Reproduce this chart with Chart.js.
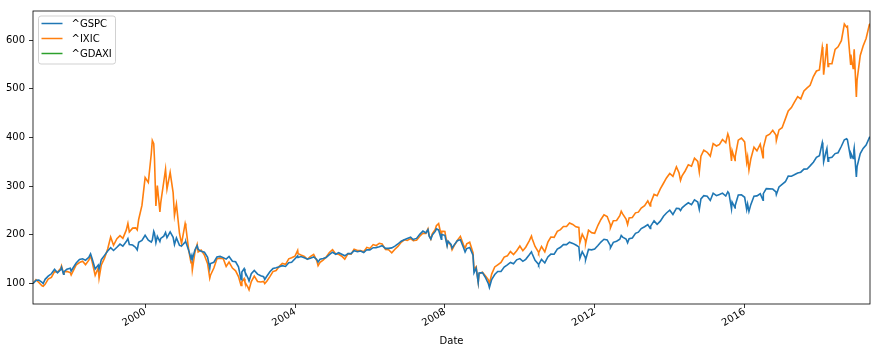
<!DOCTYPE html>
<html><head><meta charset="utf-8">
<script src="https://cdn.jsdelivr.net/npm/chart.js@4.4.1/dist/chart.umd.min.js"></script>
<style>html,body{margin:0;padding:0;background:#fff;}#wrap{width:880px;height:354px;position:relative;}</style>
</head><body><div id="wrap"><canvas id="c" width="880" height="354"></canvas></div>
<script>
const dates = [
'1997-01-02','1997-01-31','1997-02-28','1997-03-31','1997-04-11','1997-04-30','1997-05-30','1997-06-30','1997-07-31','1997-08-29','1997-09-30','1997-10-07','1997-10-27','1997-10-31','1997-11-28','1997-12-31',
'1998-01-09','1998-01-30','1998-02-27','1998-03-31','1998-04-30','1998-05-29','1998-06-30','1998-07-17','1998-07-31','1998-08-31','1998-09-30','1998-10-08','1998-10-30','1998-11-30','1998-12-31',
'1999-01-29','1999-02-26','1999-03-31','1999-04-30','1999-05-28','1999-06-30','1999-07-16','1999-07-30','1999-08-31','1999-09-30','1999-10-15','1999-10-29','1999-11-30','1999-12-31',
'2000-01-31','2000-02-29','2000-03-10','2000-03-24','2000-03-31','2000-04-14','2000-04-28','2000-05-23','2000-05-31','2000-06-30','2000-07-17','2000-07-31','2000-08-31','2000-09-29','2000-10-12','2000-10-31','2000-11-30','2000-12-20','2000-12-29',
'2001-01-24','2001-01-31','2001-02-28','2001-03-22','2001-03-30','2001-04-04','2001-04-30','2001-05-21','2001-05-31','2001-06-29','2001-07-31','2001-08-31','2001-09-21','2001-09-28','2001-10-31','2001-11-30','2001-12-31',
'2002-01-31','2002-02-28','2002-03-28','2002-04-30','2002-05-31','2002-06-28','2002-07-23','2002-07-31','2002-08-22','2002-08-30','2002-09-30','2002-10-09','2002-10-31','2002-11-29','2002-12-31',
'2003-01-31','2003-02-28','2003-03-11','2003-03-31','2003-04-30','2003-05-30','2003-06-30','2003-07-31','2003-08-29','2003-09-30','2003-10-31','2003-11-28','2003-12-31',
'2004-01-26','2004-01-30','2004-02-27','2004-03-31','2004-04-30','2004-05-28','2004-06-30','2004-07-30','2004-08-12','2004-08-31','2004-09-30','2004-10-29','2004-11-30','2004-12-31',
'2005-01-31','2005-02-28','2005-03-31','2005-04-29','2005-05-31','2005-06-30','2005-07-29','2005-08-31','2005-09-30','2005-10-31','2005-11-30','2005-12-30',
'2006-01-31','2006-02-28','2006-03-31','2006-04-28','2006-05-31','2006-06-30','2006-07-31','2006-08-31','2006-09-29','2006-10-31','2006-11-30','2006-12-29',
'2007-01-31','2007-02-27','2007-02-28','2007-03-30','2007-04-30','2007-05-31','2007-06-29','2007-07-19','2007-07-31','2007-08-16','2007-08-31','2007-09-28','2007-10-09','2007-10-31','2007-11-26','2007-11-30','2007-12-31',
'2008-01-22','2008-01-31','2008-02-29','2008-03-10','2008-03-31','2008-04-30','2008-05-30','2008-06-30','2008-07-15','2008-07-31','2008-08-29','2008-09-30','2008-10-10','2008-10-31','2008-11-20','2008-11-28','2008-12-31',
'2009-01-30','2009-02-27','2009-03-09','2009-03-31','2009-04-30','2009-05-29','2009-06-30','2009-07-31','2009-08-31','2009-09-30','2009-10-30','2009-11-30','2009-12-31',
'2010-01-29','2010-02-26','2010-03-31','2010-04-23','2010-04-30','2010-05-28','2010-06-30','2010-07-02','2010-07-30','2010-08-31','2010-09-30','2010-10-29','2010-11-30','2010-12-31',
'2011-01-31','2011-02-28','2011-03-31','2011-04-29','2011-05-31','2011-06-30','2011-07-29','2011-08-08','2011-08-31','2011-09-30','2011-10-03','2011-10-31','2011-11-30','2011-12-30',
'2012-01-31','2012-02-29','2012-03-30','2012-04-30','2012-05-31','2012-06-01','2012-06-29','2012-07-31','2012-08-31','2012-09-14','2012-09-28','2012-10-31','2012-11-15','2012-11-30','2012-12-31',
'2013-01-31','2013-02-28','2013-03-28','2013-04-30','2013-05-31','2013-06-24','2013-06-28','2013-07-31','2013-08-30','2013-09-30','2013-10-31','2013-11-29','2013-12-31',
'2014-01-31','2014-02-28','2014-03-06','2014-03-31','2014-04-15','2014-04-30','2014-05-30','2014-06-30','2014-07-31','2014-08-29','2014-09-30','2014-10-15','2014-10-31','2014-11-28','2014-12-31',
'2015-01-30','2015-02-27','2015-03-31','2015-04-30','2015-05-29','2015-06-30','2015-07-20','2015-07-31','2015-08-25','2015-08-31','2015-09-29','2015-09-30','2015-10-30','2015-11-30','2015-12-31',
'2016-01-20','2016-01-29','2016-02-11','2016-02-29','2016-03-31','2016-04-29','2016-05-31','2016-06-27','2016-06-30','2016-07-29','2016-08-31','2016-09-30','2016-10-31','2016-11-04','2016-11-30','2016-12-30',
'2017-01-31','2017-02-28','2017-03-31','2017-04-28','2017-05-31','2017-06-30','2017-07-31','2017-08-31','2017-09-29','2017-10-31','2017-11-30','2017-12-29',
'2018-01-26','2018-01-31','2018-02-08','2018-02-28','2018-03-12','2018-03-23','2018-03-29','2018-04-30','2018-05-31','2018-06-29','2018-07-31','2018-08-29','2018-09-20','2018-09-28','2018-10-29','2018-10-31','2018-11-23','2018-11-30','2018-12-03','2018-12-24','2018-12-31',
'2019-01-31','2019-02-28','2019-03-29','2019-04-30','2019-05-06'
];
const gspc = [
100,106.6,107.3,102.7,100.1,108.7,115.1,120.1,129.4,122.0,128.5,133.4,119.0,124.2,129.6,131.6,
125.8,133.0,142.3,149.5,150.9,148.0,153.9,161.0,152.1,129.9,138.0,130.1,149.1,157.9,166.8,
173.7,168.0,174.5,181.1,176.7,186.3,192.4,180.3,179.1,174.1,169.2,184.9,188.5,199.3,
189.1,185.3,189.3,207.2,203.4,184.1,197.0,186.4,192.8,197.4,204.9,194.2,206.0,195.0,180.3,193.9,178.4,177.1,179.1,
185.2,185.3,168.2,151.7,157.4,149.7,169.5,178.0,170.4,166.1,164.3,153.9,131.1,141.2,143.8,154.5,155.8,
153.3,150.2,155.6,146.0,144.8,134.3,108.1,123.7,130.5,124.3,110.6,105.4,120.2,127.0,119.4,
116.1,114.1,108.5,115.1,124.4,130.8,132.3,134.3,136.8,135.1,142.6,143.6,150.9,
156.7,153.5,155.4,152.8,150.2,152.1,154.8,149.5,144.4,149.8,151.3,153.3,159.3,164.4,
160.2,163.4,160.2,157.0,161.7,161.6,167.4,165.5,166.8,163.8,169.5,169.3,
173.7,173.8,175.7,177.9,172.3,172.3,173.3,176.9,181.3,187.0,190.1,192.4,
195.1,190.0,190.9,192.8,201.1,207.7,203.9,210.7,197.4,191.5,200.0,207.2,212.3,210.2,190.9,200.9,199.2,
177.7,187.1,180.6,172.7,179.5,188.1,190.0,173.7,164.9,171.9,174.1,158.2,122.0,131.5,102.0,121.6,122.5,
112.1,99.7,91.9,108.3,118.5,124.7,124.7,133.9,138.5,143.4,140.6,148.7,151.3,
145.7,149.8,158.6,165.1,161.1,147.8,139.9,138.7,149.5,142.3,154.8,160.5,160.2,170.7,
174.5,180.1,179.9,185.1,182.5,179.2,175.3,151.8,165.4,153.5,149.1,170.0,169.2,170.7,
178.0,185.3,191.0,189.7,177.7,173.4,184.8,187.1,190.9,198.9,195.5,191.6,183.6,192.1,193.5,
203.3,205.6,212.9,216.8,221.3,213.4,217.9,228.8,221.6,228.2,238.4,245.0,250.7,
241.9,252.2,254.7,254.0,250.1,255.6,261.1,265.9,262.0,271.8,267.6,252.6,273.8,280.6,279.4,
270.7,285.6,280.6,283.0,285.9,279.9,288.7,285.5,253.5,267.6,255.6,260.5,282.1,282.2,277.3,
252.2,263.2,248.2,262.1,279.5,280.2,284.5,271.5,284.8,295.0,294.6,294.2,288.5,282.9,298.4,303.8,
309.2,320.8,320.6,323.5,327.3,328.8,335.1,335.4,341.8,349.4,359.3,362.8,
389.8,383.2,350.2,368.2,377.6,351.2,358.3,359.3,367.0,368.8,382.1,395.5,397.7,395.4,358.3,368.0,357.3,374.5,378.6,319.0,340.2,
366.9,377.7,384.5,399.7,398.0
];
const ixic = [
100,107.8,102.2,95.4,94.5,98.5,109.3,112.7,124.5,123.9,131.6,136.3,119.9,124.5,125.0,122.6,
117.4,126.4,138.3,143.3,145.9,138.9,148.0,157.3,146.2,117.0,132.3,110.8,138.3,152.3,171.2,
195.7,178.7,192.2,198.6,192.9,209.7,223.6,206.0,213.9,214.4,210.0,231.6,260.5,317.7,
307.6,366.7,394.2,387.5,357.1,259.3,301.5,247.1,265.6,309.7,335.0,294.1,328.4,286.8,240.0,263.1,202.9,182.2,192.9,
223.2,216.5,168.0,142.9,143.7,127.9,165.2,180.1,164.8,168.7,158.3,140.9,111.1,117.0,132.0,150.8,152.3,
151.0,135.2,144.1,131.8,126.2,114.2,96.0,103.7,110.0,102.7,91.5,87.0,103.9,115.5,104.3,
103.1,104.4,99.9,104.7,114.3,124.6,126.7,135.5,141.3,139.5,150.9,153.0,156.4,
168.1,161.3,158.5,155.7,149.9,155.2,159.9,147.3,136.8,143.5,148.1,154.2,163.7,169.8,
161.0,160.2,156.1,150.1,161.5,160.6,170.6,168.0,168.0,165.5,174.4,172.2,
180.1,178.1,182.7,181.4,170.1,169.6,163.3,170.5,176.3,184.8,189.9,188.6,
192.4,188.0,188.6,189.1,197.2,203.4,203.2,212.4,198.8,191.4,202.7,211.0,218.9,223.2,198.4,207.8,207.1,
179.0,186.6,177.3,169.4,178.0,188.4,197.0,179.0,173.0,181.6,184.9,163.3,128.8,134.4,102.8,119.9,123.1,
115.3,107.6,99.0,119.4,134.1,138.5,143.3,154.5,156.9,165.7,159.7,167.5,177.2,
167.6,174.7,187.2,197.6,192.2,176.2,164.7,163.3,176.1,165.1,185.0,195.7,195.0,207.2,
210.8,217.2,217.1,224.4,221.4,216.6,215.2,184.1,201.4,188.6,182.3,209.6,204.6,203.4,
219.7,231.7,241.4,237.8,220.7,214.5,229.2,229.6,239.5,248.5,243.3,232.5,221.4,235.0,235.8,
245.3,246.7,255.2,259.9,269.9,259.2,265.7,283.1,280.3,294.4,306.1,317.0,326.2,
320.4,336.4,339.8,327.9,312.0,321.3,331.3,344.2,341.2,357.6,350.8,329.1,361.6,374.2,369.8,
361.9,387.6,382.7,385.8,395.9,389.4,407.5,400.4,351.8,373.0,352.7,360.7,394.6,398.9,391.0,
349.2,360.3,333.2,355.9,380.3,372.8,386.4,358.7,378.2,403.1,407.0,414.8,405.2,394.0,415.7,420.3,
438.4,454.8,461.6,472.2,484.0,479.4,495.7,502.0,507.2,525.3,536.7,539.0,
586.1,578.7,529.2,567.9,592.5,546.0,551.5,551.7,581.1,586.4,599.0,633.2,626.9,628.3,550.5,570.5,541.8,572.4,581.1,483.6,518.1,
568.6,588.2,603.5,632.1,634.0
];
const gdaxi = [];
const seriesLabels = ['^GSPC', '^IXIC', '^GDAXI'];
const seriesColors = ['#1f77b4', '#ff7f0e', '#2ca02c'];
const yTickValues = [100, 200, 300, 400, 500, 600];
const xTickYears = [2000, 2004, 2008, 2012, 2016];
const xAxisTitle = 'Date';

function toMs(s) { const p = s.split('-').map(Number); return Date.UTC(p[0], p[1] - 1, p[2]); }
const xs = dates.map(toMs);
const seriesValues = [gspc, ixic, gdaxi];
const FONT = 'DejaVu Sans';

const datasets = seriesLabels.map((lab, i) => ({
  label: lab,
  data: seriesValues[i].map((v, j) => ({ x: xs[j], y: v })),
  borderColor: seriesColors[i],
  backgroundColor: seriesColors[i],
  borderWidth: 1.6,
  pointRadius: 0,
  tension: 0,
  fill: false
}));

const framePlugin = {
  id: 'frameAndLegend',
  afterDatasetsDraw(chart) {
    const ctx = chart.ctx, a = chart.chartArea;
    ctx.save();
    ctx.strokeStyle = '#000';
    ctx.lineWidth = 0.8;
    ctx.strokeRect(a.left, a.top, a.right - a.left, a.bottom - a.top);
    const bx = a.left + 5.5, by = a.top + 5, bw = 77, bh = 48, r = 2.5;
    ctx.beginPath();
    ctx.moveTo(bx + r, by);
    ctx.lineTo(bx + bw - r, by); ctx.arcTo(bx + bw, by, bx + bw, by + r, r);
    ctx.lineTo(bx + bw, by + bh - r); ctx.arcTo(bx + bw, by + bh, bx + bw - r, by + bh, r);
    ctx.lineTo(bx + r, by + bh); ctx.arcTo(bx, by + bh, bx, by + bh - r, r);
    ctx.lineTo(bx, by + r); ctx.arcTo(bx, by, bx + r, by, r);
    ctx.closePath();
    ctx.fillStyle = 'rgba(255,255,255,0.8)';
    ctx.fill();
    ctx.strokeStyle = 'rgba(204,204,204,0.9)';
    ctx.lineWidth = 1;
    ctx.stroke();
    ctx.font = '10px "' + FONT + '"';
    ctx.textBaseline = 'middle';
    ctx.textAlign = 'left';
    seriesLabels.forEach((lab, i) => {
      const y = by + 7.5 + i * 15;
      ctx.strokeStyle = seriesColors[i];
      ctx.lineWidth = 1.5;
      ctx.beginPath();
      ctx.moveTo(bx + 3, y); ctx.lineTo(bx + 24, y);
      ctx.stroke();
      ctx.fillStyle = '#000';
      ctx.fillText(lab, bx + 33, y + 0.5);
    });
    ctx.restore();
  }
};

new Chart(document.getElementById('c'), {
  type: 'line',
  data: { datasets },
  options: {
    responsive: false,
    devicePixelRatio: 1,
    animation: false,
    events: [],
    layout: { padding: { left: 0, right: 10, top: 11, bottom: 0 } },
    plugins: { legend: { display: false }, tooltip: { enabled: false } },
    scales: {
      x: {
        type: 'linear',
        bounds: 'data',
        min: xs[0],
        max: xs[xs.length - 1],
        afterBuildTicks(scale) { scale.ticks = xTickYears.map(y => ({ value: Date.UTC(y, 0, 1) })); },
        afterFit(scale) { scale.height = 50; },
        grid: { display: true, drawOnChartArea: false, drawTicks: true, tickLength: 4, tickColor: '#000', tickWidth: 0.8 },
        border: { display: false },
        ticks: {
          autoSkip: false, maxRotation: 30, minRotation: 30, padding: -2,
          color: '#000', font: { family: FONT, size: 10 },
          callback: (v) => String(new Date(v).getUTCFullYear())
        },
        title: { display: true, text: xAxisTitle, color: '#000', font: { family: FONT, size: 10 }, padding: { top: 0, bottom: 7 } }
      },
      y: {
        type: 'linear',
        bounds: 'data',
        min: 58,
        max: 660,
        afterBuildTicks(scale) { scale.ticks = yTickValues.map(v => ({ value: v })); },
        afterFit(scale) { scale.width = 33; },
        grid: { display: true, drawOnChartArea: false, drawTicks: true, tickLength: 4, tickColor: '#000', tickWidth: 0.8 },
        border: { display: false },
        ticks: { color: '#000', padding: 4, font: { family: FONT, size: 10 } }
      }
    }
  },
  plugins: [framePlugin]
});
</script>
</body></html>
